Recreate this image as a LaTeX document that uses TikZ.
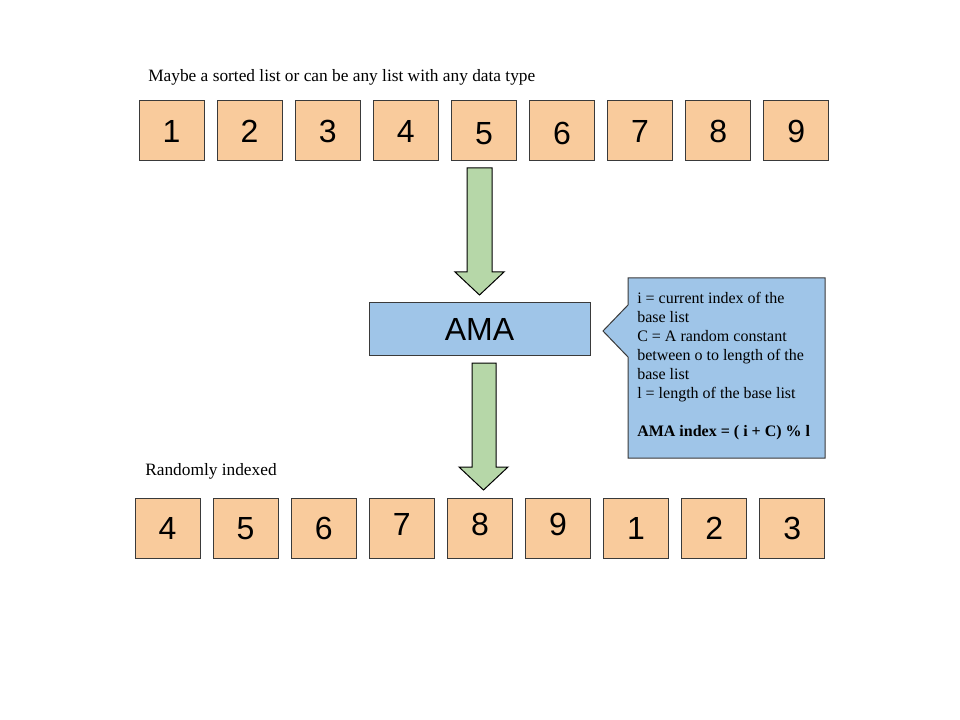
\documentclass[tikz,border=0pt]{standalone}
\usepackage{fontspec}
\setmainfont{Liberation Serif}
\newfontfamily\arialf{Liberation Sans}
\definecolor{boxorange}{HTML}{F9CB9C}
\definecolor{amablue}{HTML}{9FC5E8}
\definecolor{arrowgreen}{HTML}{B6D7A8}
\definecolor{edgecol}{HTML}{3A3A3A}
\begin{document}
\begin{tikzpicture}[x=0.75pt,y=-0.75pt,
  numbox/.style={draw=edgecol, line width=0.75pt, fill=boxorange, minimum width=48.75pt, minimum height=45pt, inner sep=0pt},
  digit/.style={inner sep=0pt, font=\arialf\fontsize{24}{24}\selectfont},
  amabox/.style={draw=edgecol, line width=0.75pt, fill=amablue, minimum width=165.75pt, minimum height=39pt, inner sep=0pt, font=\arialf\fontsize{24}{24}\selectfont},
  fatarrow/.style={draw=black, line width=0.75pt, fill=arrowgreen, line join=miter},
  calloutbox/.style={draw=edgecol, line width=0.75pt, fill=amablue},
  lbl/.style={inner sep=0pt, font=\fontsize{13}{15}\selectfont},
  notetext/.style={inner sep=0pt, font=\fontsize{12}{14.25}\selectfont}]
\useasboundingbox (0,0) rectangle (960,720);
\fill[white] (0,0) rectangle (960,720);
% top row
\foreach \n/\dy [count=\i from 0] in {1/0,2/0,3/0,4/0,5/-2.25,6/-1.9,7/0,8/0,9/0}{
  \node[numbox] (t\n) at ({171.5+78.1*\i},131) {};
  \node[digit] (tn\n) at ([yshift=\dy pt]t\n.center) {\n};
}
% bottom row
\foreach \n/\dy [count=\i from 0] in {4/0,5/-0.5,6/-0.5,7/2.4,8/2.6,9/2.6,1/-0.3,2/-0.5,3/-0.3}{
  \node[numbox] (b\i) at ({167.5+78.1*\i},528) {};
  \node[digit] (bn\i) at ([yshift=\dy pt]b\i.center) {\n};
}
% labels
\node[lbl, anchor=base west] (toplabel) at (148,82) {Maybe a sorted list or can be any list with any data type};
\node[lbl, anchor=base west] (botlabel) at (145,475) {Randomly indexed};
% AMA
\node[amabox] (ama) at (479.5,329) {AMA};
% fat arrows
\draw[fatarrow] (467,168) -- (492,168) -- (492,272) -- (504,272) -- (479.5,295) -- (455,272) -- (467,272) -- cycle;
\draw[fatarrow] (472,363) -- (496,363) -- (496,467) -- (508,467) -- (483.5,490) -- (459,467) -- (472,467) -- cycle;
% callout
\draw[calloutbox] (628,278) -- (825,278) -- (825,458) -- (628,458) -- (628,357) -- (603,331) -- (628,305) -- cycle;
\node[notetext, anchor=north west, align=left] (note) at (637,292) {i = current index of the\\base list\\C = A random constant\\between o to length of the\\base list\\l = length of the base list\\[14.25pt]\textbf{AMA index = ( i + C) \% l}};
\end{tikzpicture}
\end{document}
